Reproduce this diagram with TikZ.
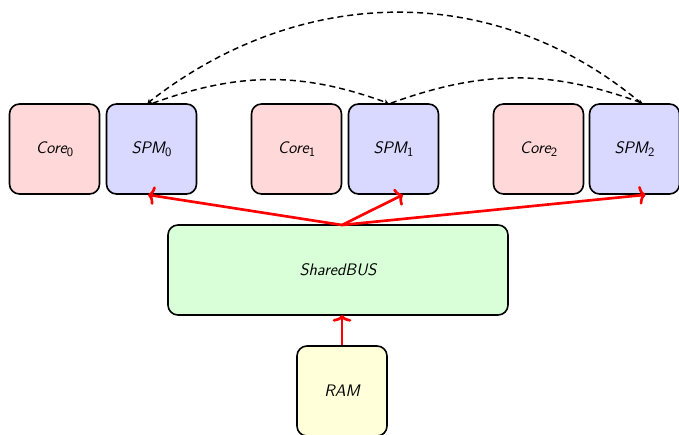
\documentclass[tikz,border=0pt]{standalone}
\usetikzlibrary{arrows.meta}
\definecolor{corefill}{RGB}{255,217,217}
\definecolor{spmfill}{RGB}{217,217,255}
\definecolor{busfill}{RGB}{217,255,217}
\definecolor{ramfill}{RGB}{255,255,217}
\tikzset{
  unit/.style={draw=black, line width=1.2pt, rounded corners=7.5pt,
    minimum width=67.5pt, minimum height=67.5pt, inner sep=0pt,
    font=\fontsize{12.5}{15}\selectfont\sffamily\itshape},
  corebox/.style={unit, fill=corefill},
  spmbox/.style={unit, fill=spmfill},
  busbox/.style={unit, fill=busfill, minimum width=255pt},
  rambox/.style={unit, fill=ramfill},
  redarrow/.style={draw=red, line width=2pt, -{To[length=5pt,width=14pt]}},
  dasharrow/.style={draw=black, line width=1.1pt, dash pattern=on 4.5pt off 3pt, -{Stealth[length=3pt,width=4pt]}}
}
\newcommand{\sub}[1]{\raisebox{-0.35ex}{\fontsize{9.5}{11}\selectfont\upshape #1}}
\begin{document}
\begin{tikzpicture}[x=0.75pt,y=-0.75pt]
\useasboundingbox (0,0) rectangle (679,435);
\node[corebox] (core0) at (54.5,149) {Core\sub{0}};
\node[spmbox]  (spm0)  at (151.5,149) {SPM\sub{0}};
\node[corebox] (core1) at (296.5,149) {Core\sub{1}};
\node[spmbox]  (spm1)  at (393.5,149) {SPM\sub{1}};
\node[corebox] (core2) at (538.5,149) {Core\sub{2}};
\node[spmbox]  (spm2)  at (634.5,149) {SPM\sub{2}};
\node[busbox]  (bus)   at (338,270) {SharedBUS};
\node[rambox]  (ram)   at (342,391) {RAM};
\coordinate (bustop) at (342,225);
\coordinate (busbot) at (342,315);
\draw[redarrow] (ram.north) -- (busbot);
\draw[redarrow] (bustop) -- ([xshift=-2.6pt]spm0.south);
\draw[redarrow] (bustop) -- ([xshift=7pt]spm1.south);
\draw[redarrow] (bustop) -- ([xshift=8.3pt]spm2.south);
\draw[dasharrow] ([xshift=1pt]spm0.north) to[out=20,in=160] ([xshift=-4pt]spm1.north);
\draw[dasharrow] ([xshift=-2pt]spm1.north) to[out=20,in=160] ([xshift=6pt]spm2.north);
\draw[dasharrow] ([xshift=5pt]spm2.north) to[out=140,in=38] ([xshift=-3pt]spm0.north);
\end{tikzpicture}
\end{document}
